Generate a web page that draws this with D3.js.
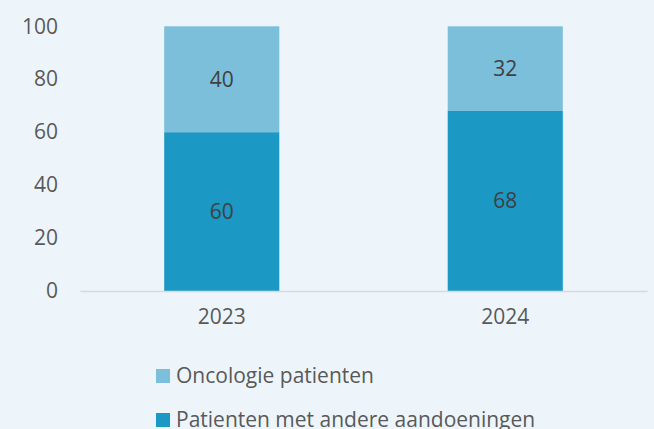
<!DOCTYPE html>
<html><head><meta charset="utf-8">
<script src="https://cdn.jsdelivr.net/npm/d3@7"></script>
<style>
html,body{margin:0;padding:0;background:#EDF5FB;}
svg{display:block;font-family:"Open Sans",sans-serif;}
</style></head>
<body>
<svg id="c" width="654" height="429"></svg>
<script>
const categories = ["2023","2024"];
const seriesNames = ["Patienten met andere aandoeningen","Oncologie patienten"];
const andere = [60,68];
const oncologie = [40,32];
const yTicks = [0,20,40,60,80,100];
const colors = {"Patienten met andere aandoeningen":"#1B98C3","Oncologie patienten":"#7BBFDA"};

const svg = d3.select("#c");
svg.append("rect").attr("width",654).attr("height",429).attr("fill","#EDF5FB");

const x = d3.scaleBand().domain(categories).range([80,647]).paddingInner(0.594).paddingOuter(0.297);
const y = d3.scaleLinear().domain([0,100]).range([291,26.3]);

const table = categories.map((c,i)=>({cat:c,"Patienten met andere aandoeningen":andere[i],"Oncologie patienten":oncologie[i]}));
const stack = d3.stack().keys(seriesNames)(table);

const g = svg.append("g");
stack.forEach(s=>{
  g.selectAll(null).data(s).enter().append("rect")
    .attr("x",d=>x(d.data.cat)).attr("width",x.bandwidth())
    .attr("y",d=>y(d[1])).attr("height",d=>y(d[0])-y(d[1]))
    .attr("fill",colors[s.key]);
  g.selectAll(null).data(s).enter().append("text")
    .attr("x",d=>x(d.data.cat)+x.bandwidth()/2)
    .attr("y",d=>(y(d[0])+y(d[1]))/2)
    .attr("dy","0.35em").attr("text-anchor","middle")
    .attr("font-size",21).attr("fill","#404040")
    .text(d=>d[1]-d[0]);
});

// y axis
const ya = svg.append("g").attr("transform","translate(80,0)")
  .call(d3.axisLeft(y).tickValues(yTicks).tickSize(0).tickPadding(22));
ya.select(".domain").remove();
ya.selectAll("text").attr("font-size",21).attr("fill","#595959").attr("font-family","Open Sans, sans-serif");

// x axis
const xa = svg.append("g").attr("transform","translate(0,291)")
  .call(d3.axisBottom(x).tickSize(0).tickPadding(18));
xa.select(".domain").attr("stroke","#D9D9D9").attr("stroke-width",1.5);
xa.selectAll("text").attr("font-size",21).attr("fill","#595959").attr("font-family","Open Sans, sans-serif");

// legend
const legendOrder = ["Oncologie patienten","Patienten met andere aandoeningen"];
const lg = svg.append("g");
legendOrder.forEach((k,i)=>{
  const yy = 369 + i*44;
  lg.append("rect").attr("x",156).attr("y",yy).attr("width",14).attr("height",14).attr("fill",colors[k]);
  lg.append("text").attr("x",176).attr("y",yy+7).attr("dy","0.35em")
    .attr("font-size",21).attr("fill","#595959").text(k);
});
</script>
</body></html>
